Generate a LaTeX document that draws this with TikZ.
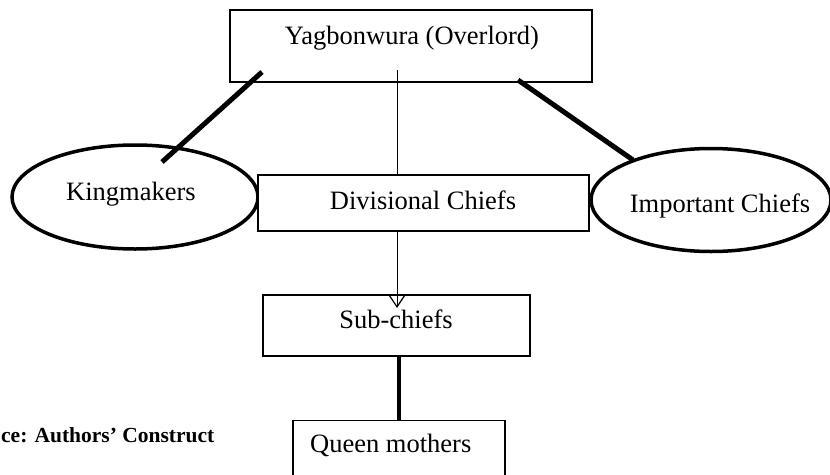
\documentclass[tikz,border=0pt]{standalone}
\usepackage{fontspec}
\setmainfont{Liberation Serif}
\usetikzlibrary{shapes.geometric,arrows.meta}
\begin{document}
\begin{tikzpicture}[x=1pt,y=-1pt,
  txt/.style={font=\fontsize{26.5}{30}\selectfont, inner sep=0pt},
  boxnode/.style={draw, line width=1.3pt, fill=white, inner sep=0pt},
  ovalnode/.style={draw, ellipse, line width=3.5pt, inner sep=0pt},
  thickline/.style={line width=5pt},
  thinarrow/.style={line width=1pt, -{Straight Barb[length=12pt,width=16pt,line width=1.2pt]}}]
\useasboundingbox (0,0) rectangle (830,474);
% boxes
\node[boxnode, minimum width=362pt, minimum height=72pt] (top) at (411,46) {};
\node[txt, anchor=base] at (412,44) {Yagbonwura (Overlord)};
\node[ovalnode, minimum width=246pt, minimum height=104pt] (king) at (135,197) {};
\node[txt, anchor=base] at (131,200) {Kingmakers};
\node[ovalnode, minimum width=240pt, minimum height=103pt] (imp) at (711,200) {};
\node[txt, anchor=base] at (720,212) {Important Chiefs};
\node[boxnode, minimum width=331pt, minimum height=56pt] (div) at (423.5,203) {};
\node[txt, anchor=base] at (423,209) {Divisional Chiefs};
\node[boxnode, minimum width=267pt, minimum height=61pt] (sub) at (396.5,325.5) {};
\node[txt, anchor=base] at (396,328) {Sub-chiefs};
\node[boxnode, minimum width=212pt, minimum height=80pt, anchor=north] (queen) at (399,420) {};
\node[txt, anchor=base west] at (310,452) {Queen mothers};
\node[font=\bfseries\fontsize{21.5}{25}\selectfont, inner sep=0pt, anchor=base west] (src) at (1,442) {ce: Authors’ Construct};
% connector end points
\coordinate (k1) at (262,72);
\coordinate (k2) at (162,162);
\coordinate (i1) at (518,80);
\coordinate (i2) at (633,160);
\coordinate (t1) at (397,70);
\coordinate (s1) at (397,308);
% connectors
\draw[thickline] (k1) -- (k2);
\draw[thickline] (i1) -- (i2);
\draw[line width=1pt] (t1) -- (t1 |- div.north);
\draw[thinarrow] (div.south -| s1) -- (s1);
\draw[line width=4.5pt] (sub.south -| queen.north) -- (queen.north);
\end{tikzpicture}
\end{document}
